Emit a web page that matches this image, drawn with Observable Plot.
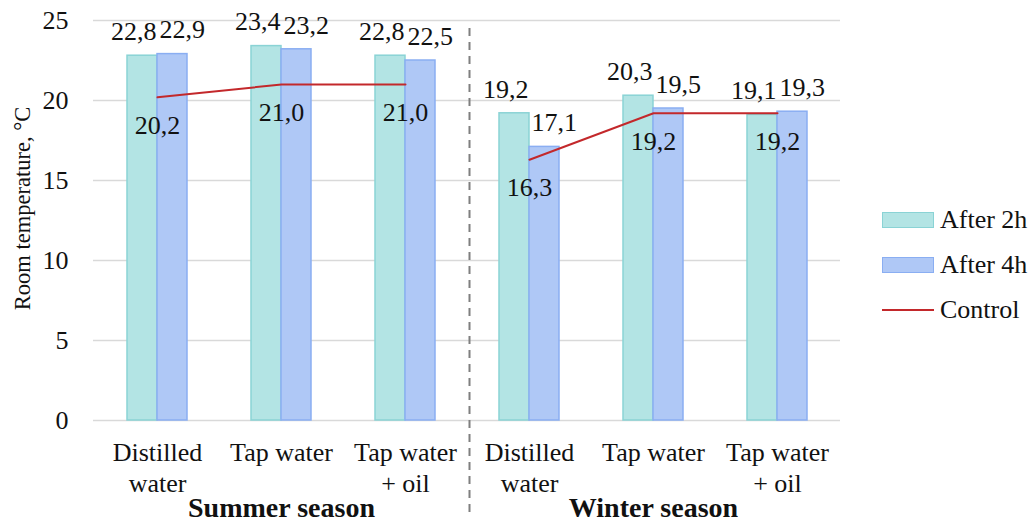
<!DOCTYPE html>
<html><head><meta charset="utf-8">
<script src="https://cdn.jsdelivr.net/npm/d3@7"></script>
<script src="https://cdn.jsdelivr.net/npm/@observablehq/plot@0.6"></script>
<style>
body{margin:0;background:#fff;font-family:'Liberation Serif','Tinos','DejaVu Serif',serif;}
#wrap{position:relative;width:1032px;height:523px;}
#legend{position:absolute;left:882px;top:197px;font-size:26px;color:#111;}
.item{display:flex;align-items:center;height:45px;}
.sw{width:52px;height:16px;margin-right:6px;box-sizing:border-box;}
</style></head><body><div id="wrap"><div id="chart"></div><div id="legend"></div></div>
<script>
const seasons = ["Summer season", "Winter season"];
const treatments = ["Distilled\nwater", "Tap water", "Tap water\n+ oil"];
const after2h = [22.8, 23.4, 22.8, 19.2, 20.3, 19.1];
const after4h = [22.9, 23.2, 22.5, 17.1, 19.5, 19.3];
const control = [20.2, 21.0, 21.0, 16.3, 19.2, 19.2];
const yTicks = [0, 5, 10, 15, 20, 25];
const seriesNames = ["After 2h", "After 4h", "Control"];
const colors = {a2fill: "#b3e4e4", a2stroke: "#8ad3d5", a4fill: "#afc8f6", a4stroke: "#8aaef2", ctrl: "#c3282b"};

const rows = after2h.map((v, i) => ({
  key: seasons[Math.floor(i / 3)] + "|" + treatments[i % 3],
  season: seasons[Math.floor(i / 3)],
  treatment: treatments[i % 3],
  middle: i % 3 === 1,
  first: i % 3 === 0,
  a2: v, a4: after4h[i], ctrl: control[i]
}));
const fmt = v => v.toFixed(1).replace(".", ",");

const chart = Plot.plot({
  width: 860, height: 523,
  marginLeft: 93, marginRight: 20, marginTop: 20, marginBottom: 103,
  style: {fontSize: "26px", fontFamily: "'Liberation Serif', 'Tinos', 'DejaVu Serif', serif", color: "#111", background: "transparent"},
  x: {domain: rows.map(d => d.key), paddingInner: 0.52, paddingOuter: 0.248, axis: null},
  y: {domain: [0, 25], ticks: yTicks, tickSize: 0, tickPadding: 25, label: null, tickFormat: d => String(d)},
  marks: [
    Plot.ruleY(yTicks, {y: d => d, stroke: "#d9d9d9", strokeWidth: 1.5}),
    Plot.barY(rows, {x: "key", y: "a2", fill: colors.a2fill, stroke: colors.a2stroke, strokeWidth: 1.5, insetRight: 30}),
    Plot.barY(rows, {x: "key", y: "a4", fill: colors.a4fill, stroke: colors.a4stroke, strokeWidth: 1.5, insetLeft: 30}),
    Plot.line(rows, {x: "key", y: "ctrl", z: "season", stroke: colors.ctrl, strokeWidth: 2}),
    Plot.text(rows, {x: "key", y: "a2", text: d => fmt(d.a2), textAnchor: "end", dx: -1, dy: -24}),
    Plot.text(rows, {x: "key", y: "a4", text: d => fmt(d.a4), textAnchor: "start", dx: 2, dy: -24}),
    Plot.text(rows, {x: "key", y: "ctrl", text: d => fmt(d.ctrl), dy: 28}),
    Plot.text(rows, {x: "key", text: "treatment", frameAnchor: "bottom", lineAnchor: "top", dy: 19, lineHeight: 1.19}),
    Plot.text(rows.filter(d => d.middle), {x: "key", text: "season", frameAnchor: "bottom", lineAnchor: "top", dy: 77, fontWeight: "bold", fontSize: 28}),
    Plot.ruleX(rows.filter(d => d.first && d.season === seasons[1]), {x: "key", dx: -60, stroke: "#7f7f7f", strokeWidth: 2, strokeDasharray: "8,6", insetTop: 8, insetBottom: -97}),
    Plot.text(["Room temperature, °C"], {frameAnchor: "left", textAnchor: "middle", rotate: -90, dx: -71, dy: -12, fontSize: 22.5})
  ]
});
document.getElementById("chart").appendChild(chart);

const legend = document.getElementById("legend");
const swatchStyles = [
  `background:${colors.a2fill};border:1.5px solid ${colors.a2stroke};`,
  `background:${colors.a4fill};border:1.5px solid ${colors.a4stroke};`,
  `height:2px;background:${colors.ctrl};`
];
seriesNames.forEach((name, i) => {
  const item = document.createElement("div");
  item.className = "item";
  const sw = document.createElement("div");
  sw.className = "sw";
  sw.style.cssText = swatchStyles[i];
  const label = document.createElement("span");
  label.textContent = name;
  item.appendChild(sw);
  item.appendChild(label);
  legend.appendChild(item);
});
</script></body></html>
